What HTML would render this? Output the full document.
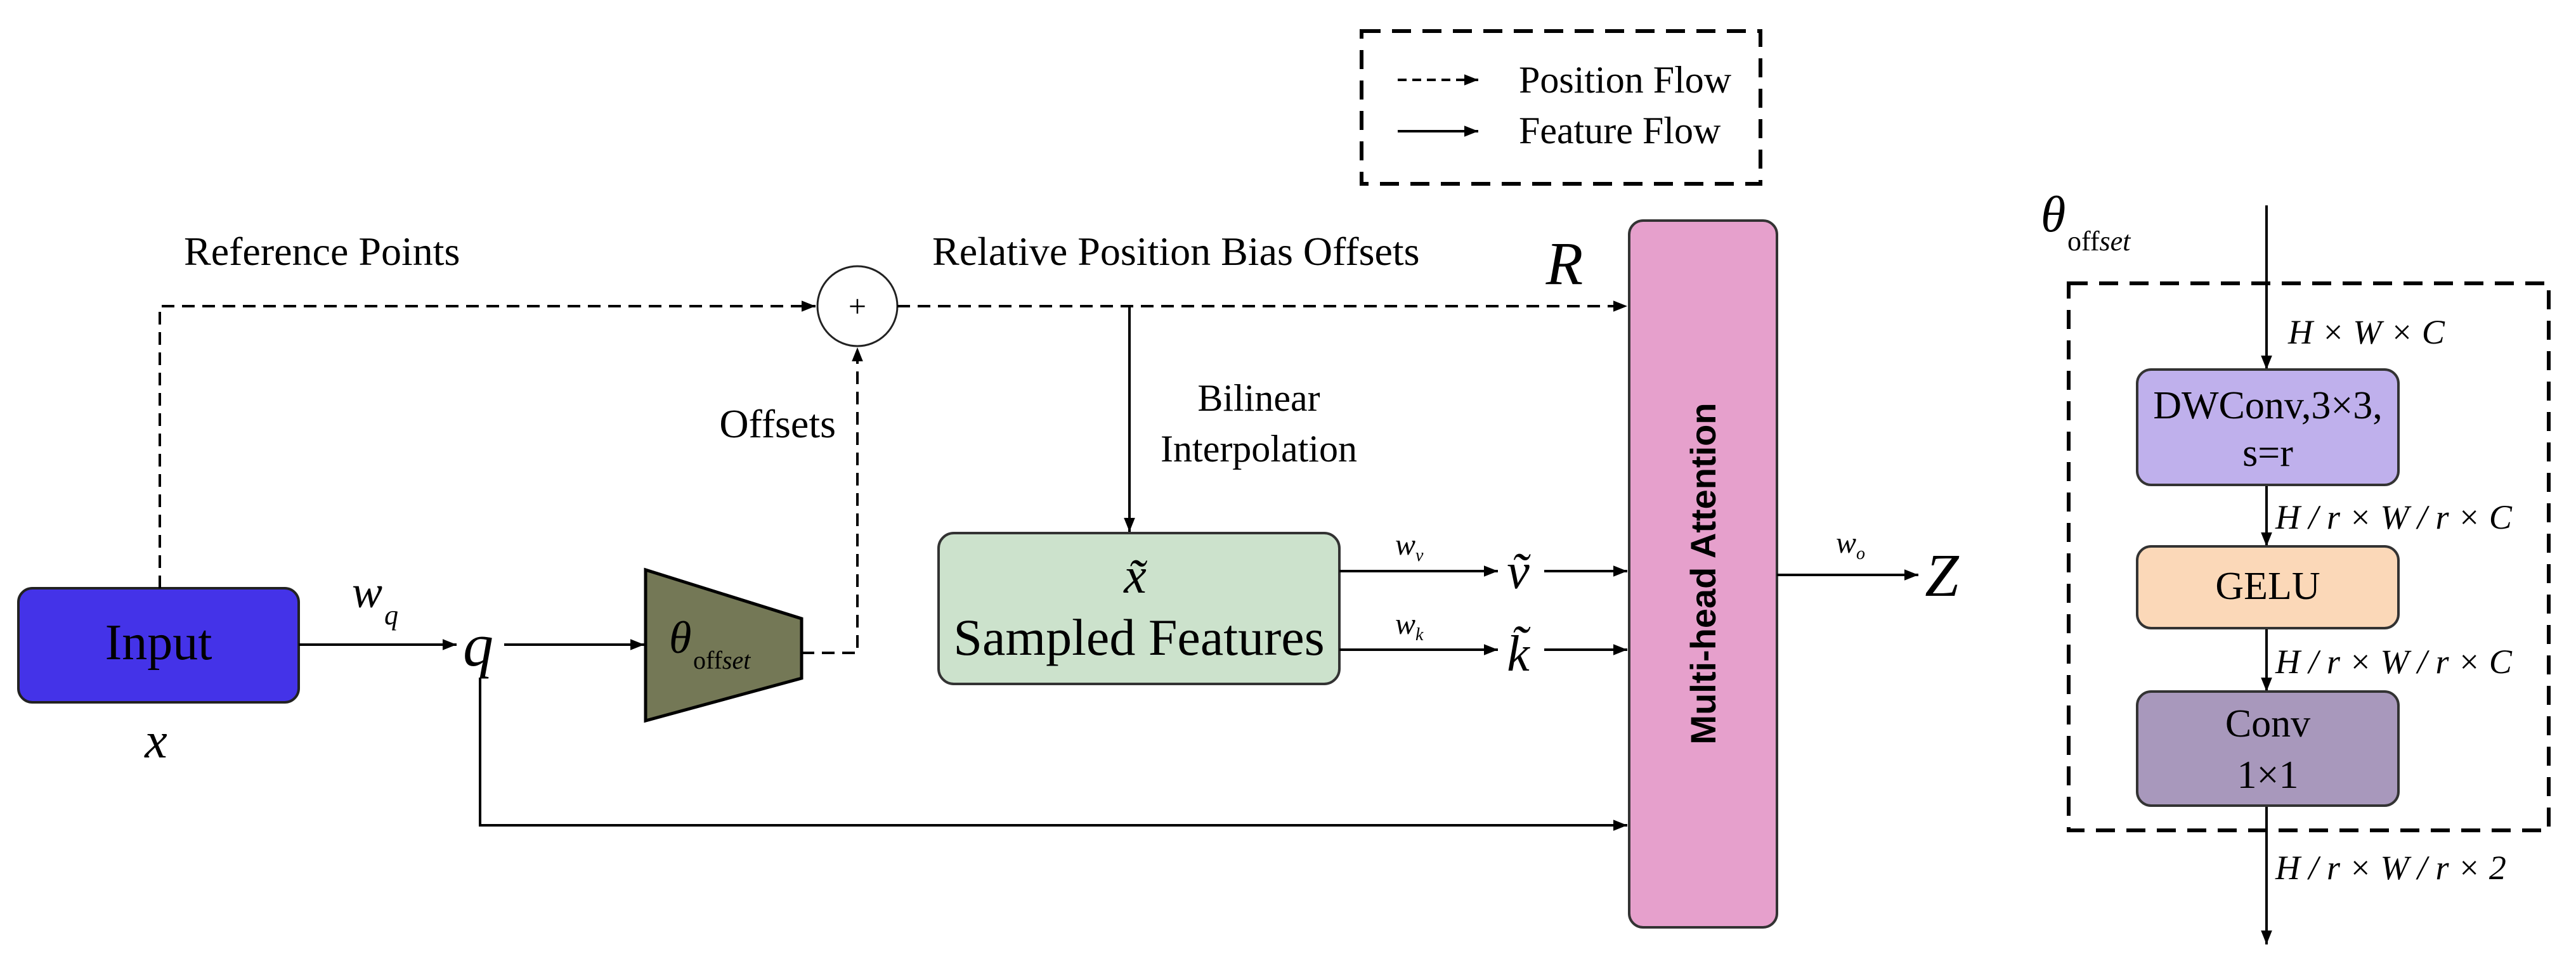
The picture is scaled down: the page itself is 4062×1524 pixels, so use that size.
<!DOCTYPE html>
<html><head><meta charset="utf-8"><style>
html,body{margin:0;padding:0;background:#fff;}
svg{display:block;}
text{font-family:"Liberation Serif",serif;fill:#000;}
</style></head><body>
<svg width="4062" height="1524" viewBox="0 0 4062 1524" xmlns="http://www.w3.org/2000/svg">
<defs>
<marker id="b" viewBox="0 0 10 10" refX="10" refY="5" markerWidth="22" markerHeight="22" orient="auto" markerUnits="userSpaceOnUse">
<path d="M0,1 L10,5 L0,9 z" fill="#000"/>
</marker>
</defs>

<!-- Legend -->
<rect x="2147" y="49" width="629" height="241" fill="none" stroke="#000" stroke-width="6" stroke-dasharray="30,18"/>
<line x1="2204" y1="126" x2="2331" y2="126" stroke="#000" stroke-width="4" stroke-dasharray="14,9" marker-end="url(#b)"/>
<line x1="2204" y1="207" x2="2331" y2="207" stroke="#000" stroke-width="4" marker-end="url(#b)"/>
<text x="2395" y="146" font-size="60">Position Flow</text>
<text x="2395" y="226" font-size="60">Feature Flow</text>

<!-- Input -->
<rect x="29" y="928" width="442" height="180" rx="22" fill="#4433e8" stroke="#222" stroke-width="4"/>
<text x="250" y="1040" font-size="80" text-anchor="middle">Input</text>
<text x="246" y="1195" font-size="80" font-style="italic" text-anchor="middle">x</text>

<!-- dashed reference path -->
<polyline points="252,928 252,483 1286,483" fill="none" stroke="#000" stroke-width="4" stroke-dasharray="20,12" marker-end="url(#b)"/>
<text x="290" y="418" font-size="64">Reference Points</text>
<circle cx="1352" cy="483" r="63" fill="#fff" stroke="#222" stroke-width="3"/>
<text x="1352" y="500" font-size="50" text-anchor="middle">+</text>
<line x1="1415" y1="483" x2="2566" y2="483" stroke="#000" stroke-width="4" stroke-dasharray="20,12" marker-end="url(#b)"/>
<text x="1470" y="418" font-size="64">Relative Position Bias Offsets</text>
<text x="2467" y="448" font-size="96" font-style="italic" text-anchor="middle">R</text>

<!-- offsets dashed -->
<polyline points="1264,1030 1352,1030 1352,548" fill="none" stroke="#000" stroke-width="4" stroke-dasharray="20,12" marker-end="url(#b)"/>
<text x="1318" y="690" font-size="64" text-anchor="end">Offsets</text>

<!-- Input to q -->
<line x1="471" y1="1017" x2="720" y2="1017" stroke="#000" stroke-width="4" marker-end="url(#b)"/>
<text x="555" y="958" font-size="72" font-style="italic">w</text>
<text x="606" y="985" font-size="44" font-style="italic">q</text>
<text x="754" y="1050" font-size="96" font-style="italic" text-anchor="middle">q</text>
<line x1="795" y1="1017" x2="1016" y2="1017" stroke="#000" stroke-width="4" marker-end="url(#b)"/>

<!-- trapezoid -->
<polygon points="1018,899 1264,976 1264,1070 1018,1137" fill="#747856" stroke="#000" stroke-width="5"/>
<text x="1055" y="1030" font-size="72" font-style="italic">θ</text>
<text x="1093" y="1055" font-size="40">off<tspan font-style="italic">set</tspan></text>

<!-- q down to MHA -->
<polyline points="757,1069 757,1302 2566,1302" fill="none" stroke="#000" stroke-width="4" marker-end="url(#b)"/>

<!-- Bilinear -->
<line x1="1781" y1="483" x2="1781" y2="839" stroke="#000" stroke-width="4" marker-end="url(#b)"/>
<text x="1985" y="648" font-size="60" text-anchor="middle">Bilinear</text>
<text x="1985" y="728" font-size="60" text-anchor="middle">Interpolation</text>

<!-- Sampled features -->
<rect x="1480" y="841" width="632" height="238" rx="24" fill="#cce2cc" stroke="#333" stroke-width="4"/>
<text x="1790" y="935" font-size="80" font-style="italic" text-anchor="middle">x̃</text>
<text x="1796" y="1033" font-size="82" text-anchor="middle">Sampled Features</text>

<!-- v, k -->
<line x1="2112" y1="901" x2="2362" y2="901" stroke="#000" stroke-width="4" marker-end="url(#b)"/>
<line x1="2112" y1="1025" x2="2362" y2="1025" stroke="#000" stroke-width="4" marker-end="url(#b)"/>
<text x="2200" y="875" font-size="48" font-style="italic">w</text>
<text x="2232" y="885" font-size="28" font-style="italic">v</text>
<text x="2200" y="1000" font-size="48" font-style="italic">w</text>
<text x="2232" y="1010" font-size="28" font-style="italic">k</text>
<text x="2394" y="928" font-size="80" font-style="italic" text-anchor="middle">ṽ</text>
<text x="2394" y="1058" font-size="80" font-style="italic" text-anchor="middle">k̃</text>
<line x1="2435" y1="901" x2="2566" y2="901" stroke="#000" stroke-width="4" marker-end="url(#b)"/>
<line x1="2435" y1="1025" x2="2566" y2="1025" stroke="#000" stroke-width="4" marker-end="url(#b)"/>

<!-- MHA -->
<rect x="2569" y="348" width="233" height="1115" rx="22" fill="#e6a0cc" stroke="#333" stroke-width="4"/>
<text transform="translate(2705,905) rotate(-90)" font-size="56" font-weight="bold" text-anchor="middle" style="font-family:'Liberation Sans',sans-serif">Multi-head Attention</text>

<!-- output -->
<line x1="2802" y1="907" x2="3025" y2="907" stroke="#000" stroke-width="4" marker-end="url(#b)"/>
<text x="2895" y="872" font-size="48" font-style="italic">w</text>
<text x="2927" y="882" font-size="28" font-style="italic">o</text>
<text x="3062" y="940" font-size="96" font-style="italic" text-anchor="middle">Z</text>

<!-- Right panel -->
<text x="3218" y="365" font-size="80" font-style="italic">θ</text>
<text x="3260" y="395" font-size="44">off<tspan font-style="italic">set</tspan></text>
<rect x="3262" y="447" width="757" height="863" fill="none" stroke="#000" stroke-width="6" stroke-dasharray="30,18"/>
<line x1="3574" y1="324" x2="3574" y2="583" stroke="#000" stroke-width="4" marker-end="url(#b)"/>
<line x1="3574" y1="765" x2="3574" y2="862" stroke="#000" stroke-width="4" marker-end="url(#b)"/>
<line x1="3574" y1="991" x2="3574" y2="1091" stroke="#000" stroke-width="4" marker-end="url(#b)"/>
<line x1="3574" y1="1271" x2="3574" y2="1490" stroke="#000" stroke-width="4" marker-end="url(#b)"/>

<rect x="3370" y="583" width="412" height="182" rx="22" fill="#bfb0ec" stroke="#333" stroke-width="4"/>
<text x="3576" y="660" font-size="62" text-anchor="middle">DWConv,3×3,</text>
<text x="3576" y="735" font-size="62" text-anchor="middle">s=r</text>
<rect x="3370" y="862" width="412" height="129" rx="22" fill="#fbd8b8" stroke="#333" stroke-width="4"/>
<text x="3576" y="945" font-size="62" text-anchor="middle">GELU</text>
<rect x="3370" y="1091" width="412" height="180" rx="22" fill="#a898bc" stroke="#333" stroke-width="4"/>
<text x="3576" y="1162" font-size="62" text-anchor="middle">Conv</text>
<text x="3576" y="1243" font-size="62" text-anchor="middle">1×1</text>

<g font-size="54" font-style="italic">
<text x="3608" y="542">H × W × C</text>
<text x="3588" y="834">H  / r × W  / r × C</text>
<text x="3588" y="1062">H  / r × W  / r × C</text>
<text x="3588" y="1387">H  / r × W  / r × 2</text>
</g>
</svg>
</body></html>
